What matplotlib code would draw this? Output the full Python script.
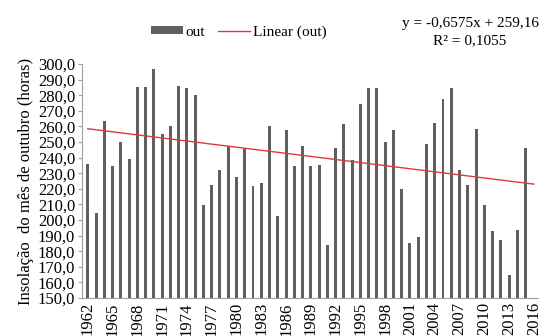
import numpy as np
import matplotlib.pyplot as plt

# Insolation of October (hours), 1962-2016 (2016 without value)
years = list(range(1962, 2017))
hours = [235.8, 204.6, 263.7, 234.9, 249.9, 239.0, 285.0, 285.0, 297.0, 255.0,
         260.0, 285.9, 284.4, 280.2, 209.5, 222.6, 232.2, 247.5, 227.5, 245.2,
         221.7, 224.0, 260.4, 202.8, 257.5, 234.9, 247.3, 234.9, 235.4, 183.9,
         246.0, 261.8, 238.3, 274.4, 284.4, 284.9, 250.3, 257.5, 219.6, 185.0,
         189.0, 248.8, 262.4, 277.4, 284.9, 232.2, 222.4, 258.6, 209.5, 192.7,
         187.1, 164.7, 193.5, 246.0, np.nan]
slope = -0.6575
intercept = 259.16
r2 = 0.1055

plt.rcParams['font.family'] = ['Liberation Serif', 'DejaVu Serif']

fig = plt.figure(figsize=(5.42, 3.36), dpi=100)
ax = fig.add_axes([82 / 542, 1 - 298 / 336, 456 / 542, 234 / 336])

x = np.arange(1, len(years) + 1)
bars = ax.bar(x, hours, width=0.36, color='#5f5f5f', label='out')
trend = slope * x + intercept
line, = ax.plot(x, trend, color='#e03a3a', lw=1.0, label='Linear (out)')

ax.set_ylim(150, 300)
ax.set_xlim(0.3, len(years) + 0.5)
ticks = np.arange(150, 301, 10)
ax.set_yticks(ticks)
ax.set_yticklabels([f"{t:.1f}".replace('.', ',') for t in ticks], fontsize=12)
ax.set_xticks(x[::3])
ax.set_xticklabels([str(y) for y in years[::3]], rotation=90, fontsize=12)
ax.tick_params(axis='x', length=0, pad=3)
ax.tick_params(axis='y', length=3, color='#a0a0a0', pad=2)

for s in ['top', 'right']:
    ax.spines[s].set_visible(False)
for s in ['left', 'bottom']:
    ax.spines[s].set_color('#a0a0a0')

ax.set_ylabel('Insolação  do mês de outubro (horas)', fontsize=12, labelpad=3)

fig.legend(handles=[bars, line], labels=['out', 'Linear (out)'],
           loc='center left', bbox_to_anchor=(143 / 542, 1 - 32 / 336),
           ncol=2, frameon=False, borderpad=0, fontsize=11,
           handlelength=2.1, handleheight=0.4, columnspacing=0.8,
           handletextpad=0.2)

eq = f"y = {slope:.4f}x + {intercept:.2f}".replace('.', ',')
fig.text(470 / 542, 1 - 23 / 336, eq, ha='center', va='center', fontsize=11)
fig.text(470 / 542, 1 - 41 / 336, f"R² = {r2:.4f}".replace('.', ','),
         ha='center', va='center', fontsize=11)

fig.savefig('out.png', dpi=100)
